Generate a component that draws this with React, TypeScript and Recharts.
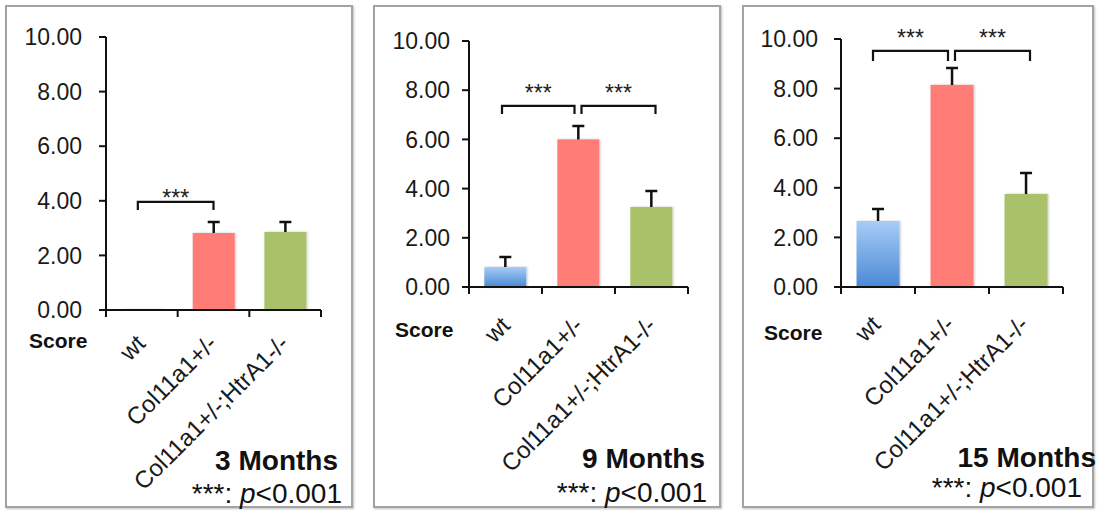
import { BarChart, Bar, XAxis, YAxis, Cell, ReferenceLine } from "recharts";

const groups = ["wt", "Col11a1+/-", "Col11a1+/-;HtrA1-/-"];
const yTicks = [0, 2, 4, 6, 8, 10];

const score3m = [0.03, 2.82, 2.86];
const sem3m = [0, 0.4, 0.36];
const score9m = [0.81, 6.0, 3.25];
const sem9m = [0.41, 0.54, 0.65];
const score15m = [2.66, 8.15, 3.75];
const sem15m = [0.49, 0.68, 0.85];

const brackets3m = [{ from: "wt", to: "Col11a1+/-", y: 3.96 }];
const brackets9m = [
  { from: "wt", to: "Col11a1+/-", y: 7.36 },
  { from: "Col11a1+/-", to: "Col11a1+/-;HtrA1-/-", y: 7.36 },
];
const brackets15m = [
  { from: "wt", to: "Col11a1+/-", y: 9.52 },
  { from: "Col11a1+/-", to: "Col11a1+/-;HtrA1-/-", y: 9.52 },
];

const FONT = "'Liberation Sans', Arial, Helvetica, sans-serif";
const BAR_COLORS = ["blue", "#FF7B77", "#A9C26A"];
const Y_W = 90;
const X_H = 150;

type Panel = {
  id: string;
  left: number;
  width: number;
  top: number;
  bottom: number;
  axisX: number;
  plotTop: number;
  plotBottom: number;
  plotRight: number;
  tickGap: number;
  labelDx: number;
  labelDy: number;
  values: number[];
  errors: number[];
  brackets: { from: string; to: string; y: number }[];
  bracketDx: [number, number][];
  leg: number;
  starDy: number;
  title: string;
  titleX: number;
  titleY: number;
  noteX: number;
  noteY: number;
  scoreX: number;
  scoreY: number;
};

const panels: Panel[] = [
  {
    id: "p3", left: 5, width: 348, top: 5, bottom: 508,
    axisX: 106, plotTop: 37, plotBottom: 310, plotRight: 321,
    tickGap: 17, labelDx: 5, labelDy: 35,
    values: score3m, errors: sem3m, brackets: brackets3m,
    bracketDx: [[-4, 0]], leg: 8, starDy: 4,
    title: "3 Months", titleX: 338, titleY: 470, noteX: 342, noteY: 503,
    scoreX: 29, scoreY: 348,
  },
  {
    id: "p9", left: 373, width: 348, top: 5, bottom: 508,
    axisX: 469, plotTop: 41, plotBottom: 287, plotRight: 688,
    tickGap: 12, labelDx: 6, labelDy: 40,
    values: score9m, errors: sem9m, brackets: brackets9m,
    bracketDx: [[-3.5, -4], [3, 4]], leg: 8, starDy: -4.5,
    title: "9 Months", titleX: 705, titleY: 468, noteX: 707, noteY: 502,
    scoreX: 395, scoreY: 337,
  },
  {
    id: "p15", left: 742, width: 352, top: 5, bottom: 508,
    axisX: 841, plotTop: 39, plotBottom: 287, plotRight: 1063,
    tickGap: 16, labelDx: 4, labelDy: 39,
    values: score15m, errors: sem15m, brackets: brackets15m,
    bracketDx: [[-5, -4], [3, 4]], leg: 10, starDy: -5,
    title: "15 Months", titleX: 1096, titleY: 467, noteX: 1082, noteY: 497,
    scoreX: 764, scoreY: 340,
  },
];

function BarWithError(props: any) {
  const { x, y, width, height, payload, fill, gradId } = props;
  const perUnit = payload.value > 0 ? height / payload.value : 0;
  const errPx = payload.err * perUnit;
  const cx = x + width / 2;
  const isBlue = fill === "blue";
  return (
    <g>
      <defs>
        {isBlue && (
          <linearGradient id={gradId} x1="0" y1="0" x2="0" y2="1">
            <stop offset="0%" stopColor="#A7CCF7" />
            <stop offset="100%" stopColor="#4A8AD5" />
          </linearGradient>
        )}
        <filter id={`${gradId}-sh-${props.index}`} x="-20%" y="-20%" width="140%" height="140%">
          <feDropShadow dx="1" dy="0" stdDeviation="1.3" floodColor="#000" floodOpacity="0.22" />
        </filter>
      </defs>
      <rect
        x={x}
        y={y}
        width={width}
        height={Math.max(height, 1)}
        fill={isBlue ? `url(#${gradId})` : fill}
        filter={`url(#${gradId}-sh-${props.index})`}
      />
      {errPx > 0 && (
        <path
          d={`M${cx},${y} V${y - errPx} M${cx - 6},${y - errPx} H${cx + 6}`}
          stroke="#111"
          strokeWidth={2.5}
          fill="none"
        />
      )}
    </g>
  );
}

function makeBracket(dx: [number, number], leg: number, starDy: number) {
  return (p: any) => {
    const x1 = p.x1 + dx[0];
    const x2 = p.x2 + dx[1];
    const y = p.y1;
    return (
      <g>
        <path
          d={`M${x1},${y + leg} V${y} H${x2} V${y + leg}`}
          stroke="#111"
          strokeWidth={2.2}
          fill="none"
        />
        <text
          x={(x1 + x2) / 2}
          y={y + starDy}
          textAnchor="middle"
          fontSize={23}
          fontFamily={FONT}
          fill="#222"
        >
          ***
        </text>
      </g>
    );
  };
}

function GroupTick(props: any) {
  const { x, y, payload, index, band, dx, dy } = props;
  const half = band / 2;
  const tx = x + dx;
  const ty = y + dy;
  return (
    <g>
      {index === 0 && (
        <line x1={x - half} x2={x - half} y1={y} y2={y + 7} stroke="#111" strokeWidth={2} />
      )}
      <line x1={x + half} x2={x + half} y1={y} y2={y + 7} stroke="#111" strokeWidth={2} />
      <text
        x={tx}
        y={ty}
        transform={`rotate(-45 ${tx} ${ty})`}
        textAnchor="end"
        fontSize={24}
        fontFamily={FONT}
        fill="#1a1a1a"
      >
        {payload.value}
      </text>
    </g>
  );
}

function ScorePanel({ p }: { p: Panel }) {
  const rows = groups.map((g, i) => ({ group: g, value: p.values[i], err: p.errors[i] }));
  const marginLeft = p.axisX - p.left - Y_W;
  const marginRight = p.left + p.width - p.plotRight;
  const band = (p.plotRight - p.axisX) / groups.length;
  return (
    <div style={{ position: "absolute", left: p.left, top: 0 }}>
      <BarChart
        width={p.width}
        height={514}
        data={rows}
        margin={{ top: p.plotTop, right: marginRight, left: marginLeft, bottom: 514 - p.plotBottom - X_H }}
        barCategoryGap="21%"
      >
        <XAxis
          dataKey="group"
          height={X_H}
          interval={0}
          axisLine={{ stroke: "#111", strokeWidth: 2 }}
          tickLine={false}
          tickSize={0}
          tickMargin={0}
          tick={<GroupTick band={band} dx={p.labelDx} dy={p.labelDy} />}
        />
        <YAxis
          width={Y_W}
          domain={[0, 10]}
          ticks={yTicks}
          interval={0}
          tickFormatter={(v: number) => v.toFixed(2)}
          axisLine={{ stroke: "#111", strokeWidth: 2 }}
          tickLine={{ stroke: "#111", strokeWidth: 2 }}
          tickSize={7}
          tickMargin={p.tickGap}
          tick={{ fill: "#1a1a1a", fontSize: 23, fontFamily: FONT }}
        />
        <Bar
          dataKey="value"
          isAnimationActive={false}
          shape={(props: any) => <BarWithError {...props} gradId={`grad-${p.id}`} />}
        >
          {rows.map((r, i) => (
            <Cell key={r.group} fill={BAR_COLORS[i]} />
          ))}
        </Bar>
        {p.brackets.map((b, i) => (
          <ReferenceLine
            key={i}
            ifOverflow="visible"
            segment={[
              { x: b.from, y: b.y },
              { x: b.to, y: b.y },
            ]}
            shape={makeBracket(p.bracketDx[i], p.leg, p.starDy)}
          />
        ))}
      </BarChart>
    </div>
  );
}

export default function App() {
  return (
    <div
      style={{
        position: "absolute",
        left: 0,
        top: 0,
        width: 1104,
        height: 514,
        background: "#fff",
        overflow: "hidden",
        fontFamily: FONT,
      }}
    >
      {panels.map((p) => (
        <div
          key={`b-${p.id}`}
          style={{
            position: "absolute",
            left: p.left,
            top: p.top,
            width: p.width - 4,
            height: p.bottom - p.top - 4,
            border: "2px solid #a3a3a3",
            boxShadow: "1px 1px 2px rgba(0,0,0,0.25)",
          }}
        />
      ))}
      {panels.map((p) => (
        <ScorePanel key={p.id} p={p} />
      ))}
      <svg
        width={1104}
        height={514}
        style={{ position: "absolute", left: 0, top: 0, pointerEvents: "none" }}
      >
        {panels.map((p) => (
          <g key={`t-${p.id}`} fontFamily={FONT} fill="#111">
            <text x={p.scoreX} y={p.scoreY} fontSize={21} fontWeight="bold">
              Score
            </text>
            <text x={p.titleX} y={p.titleY} fontSize={28} fontWeight="bold" textAnchor="end">
              {p.title}
            </text>
            <text x={p.noteX} y={p.noteY} fontSize={28} textAnchor="end">
              ***: <tspan fontStyle="italic">p</tspan>&lt;0.001
            </text>
          </g>
        ))}
      </svg>
    </div>
  );
}
